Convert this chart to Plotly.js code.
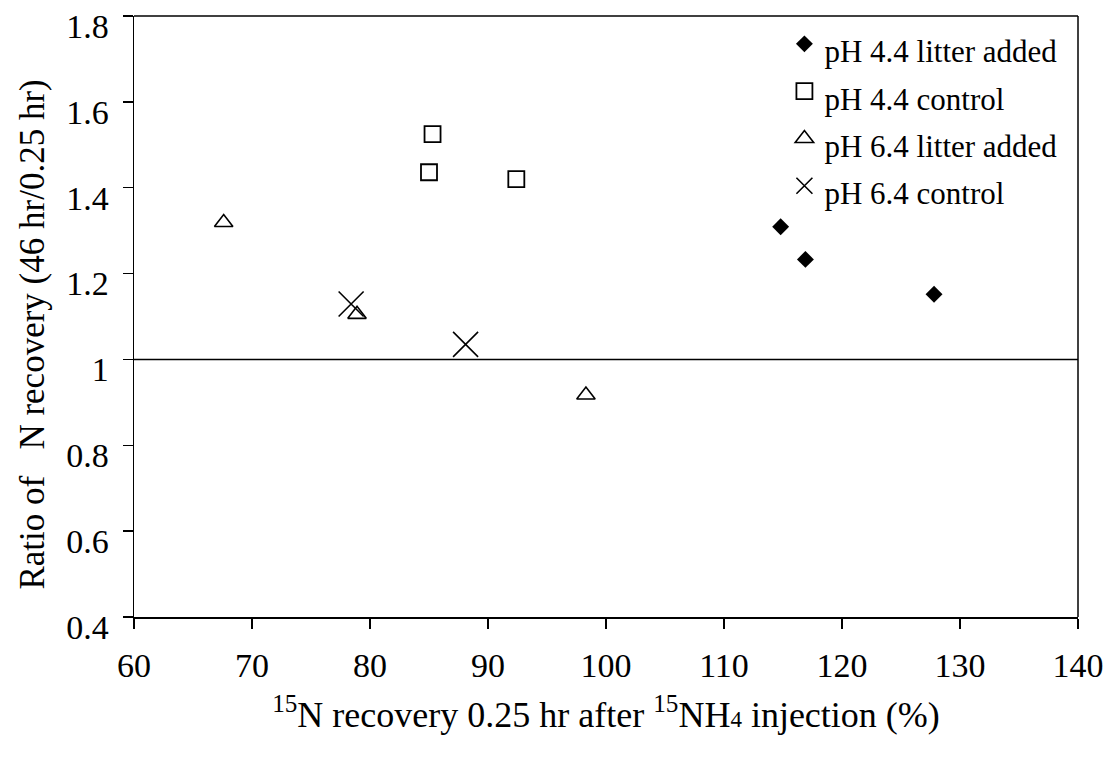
<!DOCTYPE html>
<html>
<head>
<meta charset="utf-8">
<script src="https://cdn.plot.ly/plotly-3.0.1.min.js"></script>
<style>
  html, body { margin: 0; padding: 0; background: #fff; }
  #chart { width: 1111px; height: 759px; }
</style>
</head>
<body>
<div id="chart"></div>
<script>
// 15N recovery at 0.25 hr (%) and ratio of recovery (46 hr / 0.25 hr)
const ph44LitterX = [114.8, 116.9, 127.8];
const ph44LitterY = [1.309, 1.233, 1.152];

const ph44ControlX = [85.3, 85.0, 92.4];
const ph44ControlY = [1.525, 1.436, 1.420];

const ph64LitterX = [67.6, 78.9, 98.3];
const ph64LitterY = [1.319, 1.105, 0.917];

const ph64ControlX = [78.4, 88.1];
const ph64ControlY = [1.129, 1.035];

const seriesNames = ['pH 4.4 litter added', 'pH 4.4 control', 'pH 6.4 litter added', 'pH 6.4 control'];

const xTicks = [60, 70, 80, 90, 100, 110, 120, 130, 140];
const yTicks = [0.4, 0.6, 0.8, 1, 1.2, 1.4, 1.6, 1.8];
const yTickLabels = ['0.4', '0.6', '0.8', '1', '1.2', '1.4', '1.6', '1.8'];

const xTitle = '<sup>15</sup>N recovery 0.25 hr after <sup>15</sup>NH<span style="font-size:23px">4</span> injection (%)';
const yTitle = 'Ratio of \u00a0\u00a0N recovery (46 hr/0.25 hr)';

// reference ratio of 1 (no change between 0.25 hr and 46 hr)
const referenceRatio = 1;

const serif = '"Liberation Serif", "Times New Roman", serif';
const legendSize = 31;

// legend labels sit a little below their symbols
const legendLabel = name => '<sub><span style="font-size:' + legendSize + 'px">' + name + '</span></sub>';

const traces = [
  {
    x: ph44LitterX, y: ph44LitterY, name: legendLabel(seriesNames[0]), legendgroup: 'a',
    type: 'scatter', mode: 'markers',
    marker: { symbol: 'diamond', size: 13, color: '#000', line: { width: 0 } }
  },
  {
    x: ph44ControlX, y: ph44ControlY, name: legendLabel(seriesNames[1]), legendgroup: 'b',
    type: 'scatter', mode: 'markers',
    marker: { symbol: 'square-open', size: 16, color: '#000', line: { width: 1.8, color: '#000' } }
  },
  {
    x: ph64LitterX, y: ph64LitterY, name: legendLabel(seriesNames[2]), legendgroup: 'c',
    type: 'scatter', mode: 'markers',
    marker: { symbol: 'triangle-up-open', size: 16, color: '#000', line: { width: 1.6, color: '#000' } }
  },
  {
    x: ph64ControlX, y: ph64ControlY, name: legendLabel(seriesNames[3]), legendgroup: 'd',
    type: 'scatter', mode: 'markers',
    marker: { symbol: 'x-thin-open', size: 25, color: '#000', line: { width: 1.6, color: '#000' } }
  }
];

const layout = {
  width: 1111,
  height: 759,
  paper_bgcolor: '#fff',
  plot_bgcolor: '#fff',
  margin: { l: 134, r: 33, t: 16, b: 142 },
  font: { family: serif, size: 31, color: '#000' },
  showlegend: true,
  legend: {
    x: 0.689, xanchor: 'left',
    y: 0.998, yanchor: 'top',
    bgcolor: 'rgba(0,0,0,0)',
    borderwidth: 0,
    valign: 'top',
    traceorder: 'grouped',
    font: { family: serif, size: legendSize, color: '#000' },
    tracegroupgap: 4
  },
  xaxis: {
    range: [60, 140],
    tickmode: 'array',
    tickvals: xTicks,
    ticktext: xTicks.map(String),
    ticks: 'outside',
    ticklen: 10,
    tickwidth: 1.5,
    tickcolor: '#000',
    showline: true,
    linecolor: '#000',
    linewidth: 1.5,
    mirror: false,
    showgrid: false,
    zeroline: false,
    tickfont: { family: serif, size: 34, color: '#000' },
    ticklabelstandoff: 8,
    title: {
      text: xTitle,
      font: { family: serif, size: 36, color: '#000' },
      standoff: 18
    }
  },
  yaxis: {
    range: [0.4, 1.8],
    tickmode: 'array',
    tickvals: yTicks,
    ticktext: yTickLabels,
    ticks: 'outside',
    ticklen: 10,
    tickwidth: 1.5,
    tickcolor: '#000',
    showline: true,
    linecolor: '#000',
    linewidth: 1.5,
    mirror: false,
    showgrid: false,
    zeroline: false,
    tickfont: { family: serif, size: 34, color: '#000' },
    ticklabelstandoff: 7,
    ticklabelshift: 10
  },
  annotations: [
    {
      text: yTitle,
      xref: 'paper', yref: 'paper',
      x: -0.108, y: 0.47,
      xanchor: 'center', yanchor: 'middle',
      textangle: -90,
      showarrow: false,
      font: { family: serif, size: 35, color: '#000' }
    }
  ],
  shapes: [
    // frame: top and right edges of the plotting area
    { type: 'line', xref: 'paper', yref: 'paper', x0: 0, x1: 1, y0: 1, y1: 1, line: { color: '#000', width: 1.5 } },
    { type: 'line', xref: 'paper', yref: 'paper', x0: 1, x1: 1, y0: 0, y1: 1, line: { color: '#000', width: 1.5 } },
    // horizontal reference line at ratio = 1
    { type: 'line', xref: 'paper', yref: 'y', x0: 0, x1: 1, y0: referenceRatio, y1: referenceRatio, line: { color: '#000', width: 1.5 } }
  ]
};

Plotly.newPlot('chart', traces, layout, { displayModeBar: false, staticPlot: true });
</script>
</body>
</html>
